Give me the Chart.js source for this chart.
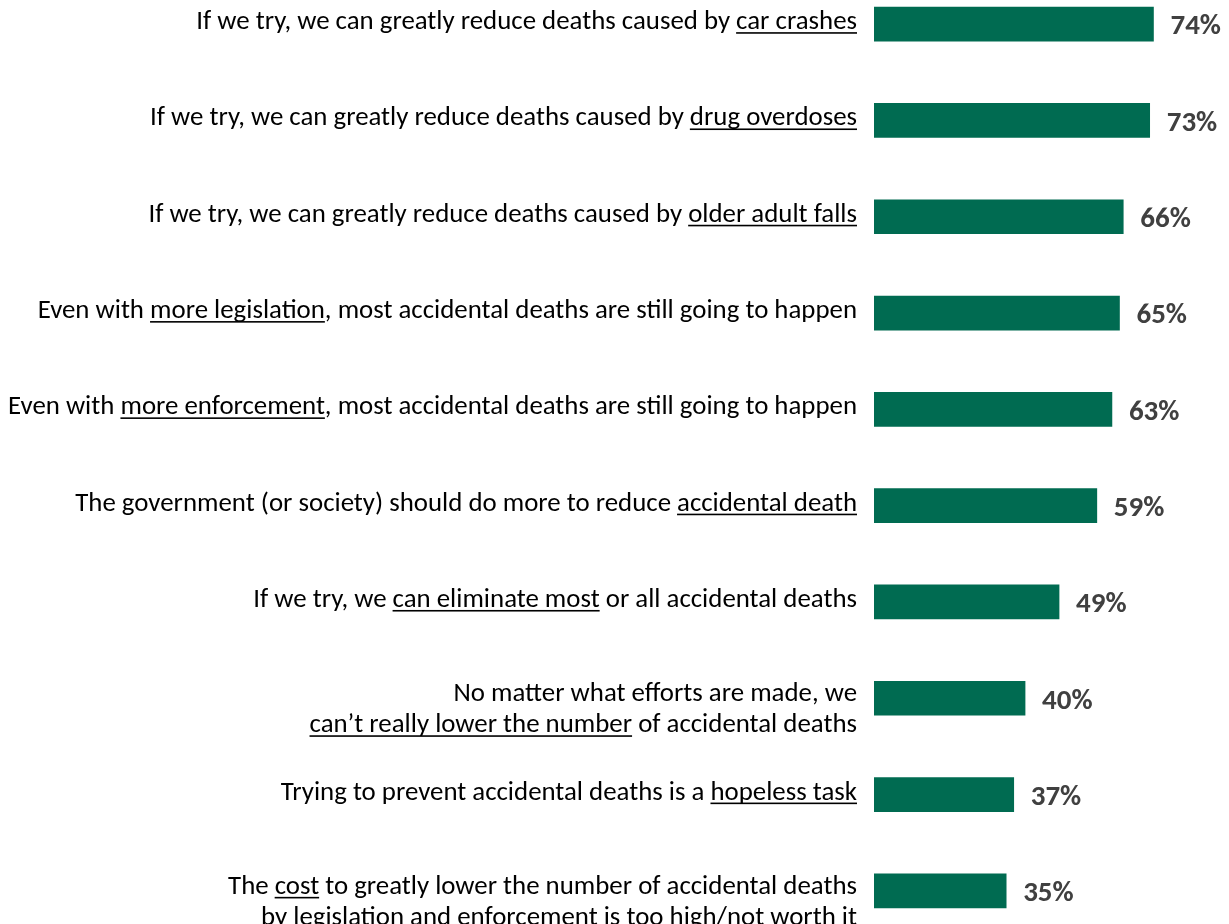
<!DOCTYPE html>
<html>
<head>
<meta charset="utf-8">
<script src="https://cdn.jsdelivr.net/npm/chart.js@4"></script>
<style>
  html, body { margin: 0; padding: 0; background: #fff; overflow: hidden; }
  #wrap { position: absolute; left: 0; top: -24px; width: 1229px; height: 963px; }
</style>
</head>
<body>
<div id="wrap"><canvas id="barChart"></canvas></div>
<script>
// _text_ marks the underlined part, \n splits lines
const statements = [
  "If we try, we can greatly reduce deaths caused by _car crashes_",
  "If we try, we can greatly reduce deaths caused by _drug overdoses_",
  "If we try, we can greatly reduce deaths caused by _older adult falls_",
  "Even with _more legislation_, most accidental deaths are still going to happen",
  "Even with _more enforcement_, most accidental deaths are still going to happen",
  "The government (or society) should do more to reduce _accidental death_",
  "If we try, we _can eliminate most_ or all accidental deaths",
  "No matter what efforts are made, we\n_can\u2019t really lower the number_ of accidental deaths",
  "Trying to prevent accidental deaths is a _hopeless task_",
  "The _cost_ to greatly lower the number of accidental deaths\n_by legislation and enforcement is too high/not worth it_"
];
const agreePct = [74, 73, 66, 65, 63, 59, 49, 40, 37, 35];

const barColor = "#006B51";
const fontFamily = "Carlito, Calibri, Lato, 'Open Sans', sans-serif";

function parseLine(line) {
  const parts = line.split("_");
  return parts.map((t, i) => ({ text: t, under: i % 2 === 1 })).filter(s => s.text.length);
}

const labelPlugin = {
  id: "labels",
  afterDraw(chart) {
    const ctx = chart.ctx;
    const meta = chart.getDatasetMeta(0);

    // fit font so the longest line matches the original width
    ctx.save();
    ctx.font = "100px " + fontFamily;
    const ref = ctx.measureText(statements[4].replace(/_/g, "")).width;
    const size = Math.min(30, 849 / ref * 100);
    const font = size.toFixed(2) + "px " + fontFamily;
    const boldFont = "bold " + (size * 1.08).toFixed(2) + "px " + fontFamily;
    const rightX = 857;
    const lineH = 31;

    statements.forEach((s, i) => {
      const bar = meta.data[i];
      const cy = bar.y;
      const lines = s.split("\n");
      const first = lines.length > 1 ? cy + 3 : cy + 5;
      ctx.font = font;
      ctx.fillStyle = "#000";
      ctx.textBaseline = "alphabetic";
      ctx.textAlign = "left";
      lines.forEach((ln, k) => {
        const segs = parseLine(ln);
        const widths = segs.map(sg => ctx.measureText(sg.text).width);
        const total = widths.reduce((a, b) => a + b, 0);
        let x = rightX - total;
        const base = first + k * lineH;
        segs.forEach((sg, j) => {
          ctx.fillText(sg.text, x, base);
          if (sg.under) {
            ctx.fillRect(x, base + 3, widths[j], 1.6);
          }
          x += widths[j];
        });
      });

      // value label
      ctx.font = boldFont;
      ctx.fillStyle = "#404040";
      ctx.textBaseline = "middle";
      ctx.fillText(agreePct[i] + "%", bar.x + 17, cy + 3);
    });
    ctx.restore();
  }
};

new Chart(document.getElementById("barChart"), {
  type: "bar",
  data: {
    labels: statements,
    datasets: [{
      data: agreePct,
      backgroundColor: barColor,
      borderWidth: 0,
      barThickness: 34
    }]
  },
  options: {
    indexAxis: "y",
    responsive: true,
    maintainAspectRatio: false,
    animation: false,
    layout: { padding: { left: 874, right: 0, top: 0, bottom: 0 } },
    plugins: {
      legend: { display: false },
      tooltip: { enabled: false }
    },
    scales: {
      x: { display: false, min: 0, max: 94 },
      y: { display: false }
    }
  },
  plugins: [labelPlugin]
});
</script>
</body>
</html>
